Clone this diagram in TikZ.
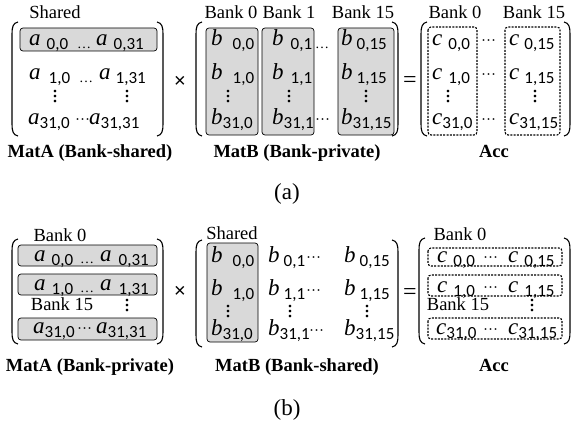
\documentclass[tikz,border=0pt]{standalone}
\usepackage{fontspec}
\setmainfont{Liberation Serif}
\newfontfamily\subfont{Carlito}
\newfontfamily\opfont{Liberation Sans}
\usetikzlibrary{positioning}
\definecolor{bankgray}{RGB}{217,217,217}

% matrix entries: letter, subscript, gap
\newcommand{\mlet}[1]{{\fontsize{23}{23}\selectfont\itshape #1}}
\newcommand{\msub}[1]{\raisebox{-4pt}{\subfont\fontsize{17}{17}\selectfont #1}}
\newcommand{\el}[3]{\mlet{#1}\hspace{#3}\msub{#2}}
\newcommand{\ldts}{{\fontsize{14}{14}\selectfont\raisebox{-2pt}{…}}}
\newcommand{\cdts}{{\fontsize{15}{15}\selectfont ···}}
\newcommand{\vdts}{\vbox{\fontsize{22}{22}\selectfont\baselineskip=5pt\lineskiplimit=-20pt\hbox{.}\hbox{.}\hbox{.}}}

% brackets: x, top, bottom
\newcommand{\lbrk}[3]{\draw[brk] ({#1+6},{-#2}) .. controls ({#1+1},{-#2-1}) and (#1,{-#2-5}) .. (#1,{-#2-12}) -- (#1,{-#3+12}) .. controls (#1,{-#3+5}) and ({#1+1},{-#3+1}) .. ({#1+6},{-#3});}
\newcommand{\rbrk}[3]{\draw[brk] ({#1-6},{-#2}) .. controls ({#1-1},{-#2-1}) and (#1,{-#2-5}) .. (#1,{-#2-12}) -- (#1,{-#3+12}) .. controls (#1,{-#3+5}) and ({#1-1},{-#3+1}) .. ({#1-6},{-#3});}

\begin{document}
\begin{tikzpicture}[
    x=1pt, y=1pt,
    entry/.style={anchor=base west, inner sep=0pt},
    hdr/.style={anchor=base, inner sep=0pt, font=\fontsize{18.5}{18.5}\selectfont},
    lbl/.style={anchor=base, inner sep=0pt, font=\bfseries\fontsize{18.5}{18.5}\selectfont},
    subcap/.style={anchor=center, inner sep=0pt, font=\fontsize{23}{23}\selectfont},
    vd/.style={anchor=center, inner sep=0pt},
    op/.style={anchor=center, inner sep=0pt},
    brk/.style={line width=1.1pt},
    bankbox/.style={draw, line width=0.7pt, fill=bankgray, rounded corners=3pt},
    accbox/.style={draw, line width=1.1pt, dash pattern=on 2pt off 1.3pt, rounded corners=3pt}
]
\useasboundingbox (0,0) rectangle (573,-428);

%% (a)
% MatA
\lbrk{12}{22}{136}
\rbrk{163}{22}{136}
\node[hdr] (sharedA) at (55,-19) {Shared};
\draw[bankbox] (20,-28) rectangle (157,-51);
\node[entry] (a00) at (29,-46) {\el{a}{0,0}{6pt}};
\node[entry] (a00d) at (77,-46) {\ldts};
\node[entry] (a0n) at (96,-46) {\el{a}{0,31}{6pt}};
\node[entry] (a10) at (29,-80) {\el{a}{1,0}{8pt}};
\node[entry] (a10d) at (79,-80) {\ldts};
\node[entry] (a1n) at (99,-80) {\el{a}{1,31}{5pt}};
\node[vd] (av0) at (55,-97) {\vdts};
\node[vd] (avn) at (127,-97) {\vdts};
\node[entry] (am0) at (28,-124) {\el{a}{31,0}{0pt}};
\node[entry] (am0d) at (75,-124) {\cdts};
\node[entry] (amn) at (89,-124) {\el{a}{31,31}{0pt}};
\node[lbl] (matA) at (90,-157) {MatA (Bank-shared)};

\node[op] (times) at (180,-82) {\opfont\fontsize{20}{20}\selectfont ×};

% MatB
\lbrk{196}{22}{136}
\rbrk{398}{22}{136}
\node[hdr] (bank0B) at (231,-19) {Bank 0};
\node[hdr] (bank1B) at (289,-19) {Bank 1};
\node[hdr] (bank15B) at (363,-19) {Bank 15};
\draw[bankbox] (206,-28) rectangle (258,-135);
\draw[bankbox] (262,-28) rectangle (314,-135);
\draw[bankbox] (338,-28) rectangle (394,-135);
\foreach \cx/\cs/\gp/\cn in {211/0/10pt/0, 272/1/7pt/1, 341/15/4pt/15} {
  \node[entry] (b0\cn) at (\cx,-46) {\el{b}{0,\cs}{\gp}};
  \node[entry] (b1\cn) at (\cx,-80) {\el{b}{1,\cs}{\gp}};
  \node[entry] (bm\cn) at (\cx,-124) {\el{b}{31,\cs}{0pt}};
}
\node[vd] (bv0) at (228,-97) {\vdts};
\node[vd] (bv1) at (289,-97) {\vdts};
\node[vd] (bv15) at (366,-97) {\vdts};
\node[entry] (b0d) at (315,-46) {\ldts};
\node[entry] (bmd) at (315,-124) {\cdts};
\node[lbl] (matB) at (297,-157) {MatB (Bank-private)};

\node[op] (equals) at (410,-82) {\fontsize{24}{24}\selectfont =};

% Acc
\lbrk{421}{22}{136}
\rbrk{570}{22}{136}
\node[hdr] (bank0C) at (455,-19) {Bank 0};
\node[hdr] (bank15C) at (534,-19) {Bank 15};
\draw[accbox] (428,-27) rectangle (477,-135);
\draw[accbox] (505,-27) rectangle (560,-135);
\foreach \cx/\cs/\gp/\cn in {432/0/6pt/0, 509/15/5pt/15} {
  \node[entry] (c0\cn) at (\cx,-46) {\el{c}{0,\cs}{\gp}};
  \node[entry] (c1\cn) at (\cx,-80) {\el{c}{1,\cs}{\gp}};
  \node[entry] (cm\cn) at (\cx,-124) {\el{c}{31,\cs}{0pt}};
}
\foreach \ry in {46,80,124}
  \node[entry] at (481,-\ry) {\cdts};
\node[vd] (cv0) at (448,-97) {\vdts};
\node[vd] (cv15) at (535,-97) {\vdts};
\node[lbl] (acc) at (494,-157) {Acc};

\node[subcap] (capA) at (287,-194) {(a)};

%% (b)
% MatA
\lbrk{12}{239}{344}
\rbrk{163}{239}{344}
\node[hdr] (bank0A) at (60,-241) {Bank 0};
\draw[bankbox] (18,-245) rectangle (157,-266);
\draw[bankbox] (18,-274) rectangle (157,-295);
\draw[bankbox] (18,-318) rectangle (157,-340);
\node[entry] (p00) at (34,-261) {\el{a}{0,0}{6pt}};
\node[entry] (p00d) at (80,-261) {\ldts};
\node[entry] (p0n) at (100,-261) {\el{a}{0,31}{7pt}};
\node[entry] (p10) at (34,-290) {\el{a}{1,0}{6pt}};
\node[entry] (p10d) at (80,-290) {\ldts};
\node[entry] (p1n) at (100,-290) {\el{a}{1,31}{7pt}};
\node[hdr] (bank15A) at (62,-310) {Bank 15};
\node[vd] (pvn) at (127,-306) {\vdts};
\node[entry] (pm0) at (33,-333) {\el{a}{31,0}{0pt}};
\node[entry] (pm0d) at (77,-333) {\cdts};
\node[entry] (pmn) at (96,-333) {\el{a}{31,31}{0pt}};
\node[lbl] (matAb) at (90,-371) {MatA (Bank-private)};

\node[op] (timesb) at (180,-292) {\opfont\fontsize{20}{20}\selectfont ×};

% MatB
\lbrk{196}{240}{347}
\rbrk{398}{240}{347}
\node[hdr] (sharedB) at (232,-239) {Shared};
\draw[bankbox] (207,-243) rectangle (258,-342);
\foreach \cx/\cs/\gp/\cn in {211/0/10pt/0, 268/1/4pt/1, 344/15/4pt/15} {
  \node[entry] (q0\cn) at (\cx,-262) {\el{b}{0,\cs}{\gp}};
  \node[entry] (q1\cn) at (\cx,-295) {\el{b}{1,\cs}{\gp}};
  \node[entry] (qm\cn) at (\cx,-335) {\el{b}{31,\cs}{0pt}};
}
\node[entry] at (306,-262) {\cdts};
\node[entry] at (306,-295) {\cdts};
\node[entry] at (309,-335) {\cdts};
\node[vd] (qv0) at (228,-312) {\vdts};
\node[vd] (qv1) at (290,-312) {\vdts};
\node[vd] (qv15) at (367,-312) {\vdts};
\node[lbl] (matBb) at (297,-371) {MatB (Bank-shared)};

\node[op] (equalsb) at (410,-294) {\fontsize{24}{24}\selectfont =};

% Acc
\lbrk{419}{238}{344}
\rbrk{570}{238}{344}
\node[hdr] (bank0D) at (460,-240) {Bank 0};
\draw[accbox] (428,-248) rectangle (562,-266);
\draw[accbox] (428,-275) rectangle (562,-296);
\draw[accbox] (428,-318) rectangle (562,-339);
\foreach \ry/\rs/\gp in {262/0/6pt, 292/1/6pt} {
  \node[entry] at (437,-\ry) {\el{c}{\rs,0}{\gp}};
  \node[entry] at (483,-\ry) {\cdts};
  \node[entry] at (508,-\ry) {\el{c}{\rs,15}{\gp}};
}
\node[hdr] (bank15D) at (458,-310) {Bank 15};
\node[vd] (rvn) at (532,-306) {\vdts};
\node[entry] (rm0) at (436,-334) {\el{c}{31,0}{0pt}};
\node[entry] (rm0d) at (483,-334) {\cdts};
\node[entry] (rmn) at (508,-334) {\el{c}{31,15}{0pt}};
\node[lbl] (accb) at (494,-371) {Acc};

\node[subcap] (capB) at (287,-410) {(b)};
\end{tikzpicture}
\end{document}
